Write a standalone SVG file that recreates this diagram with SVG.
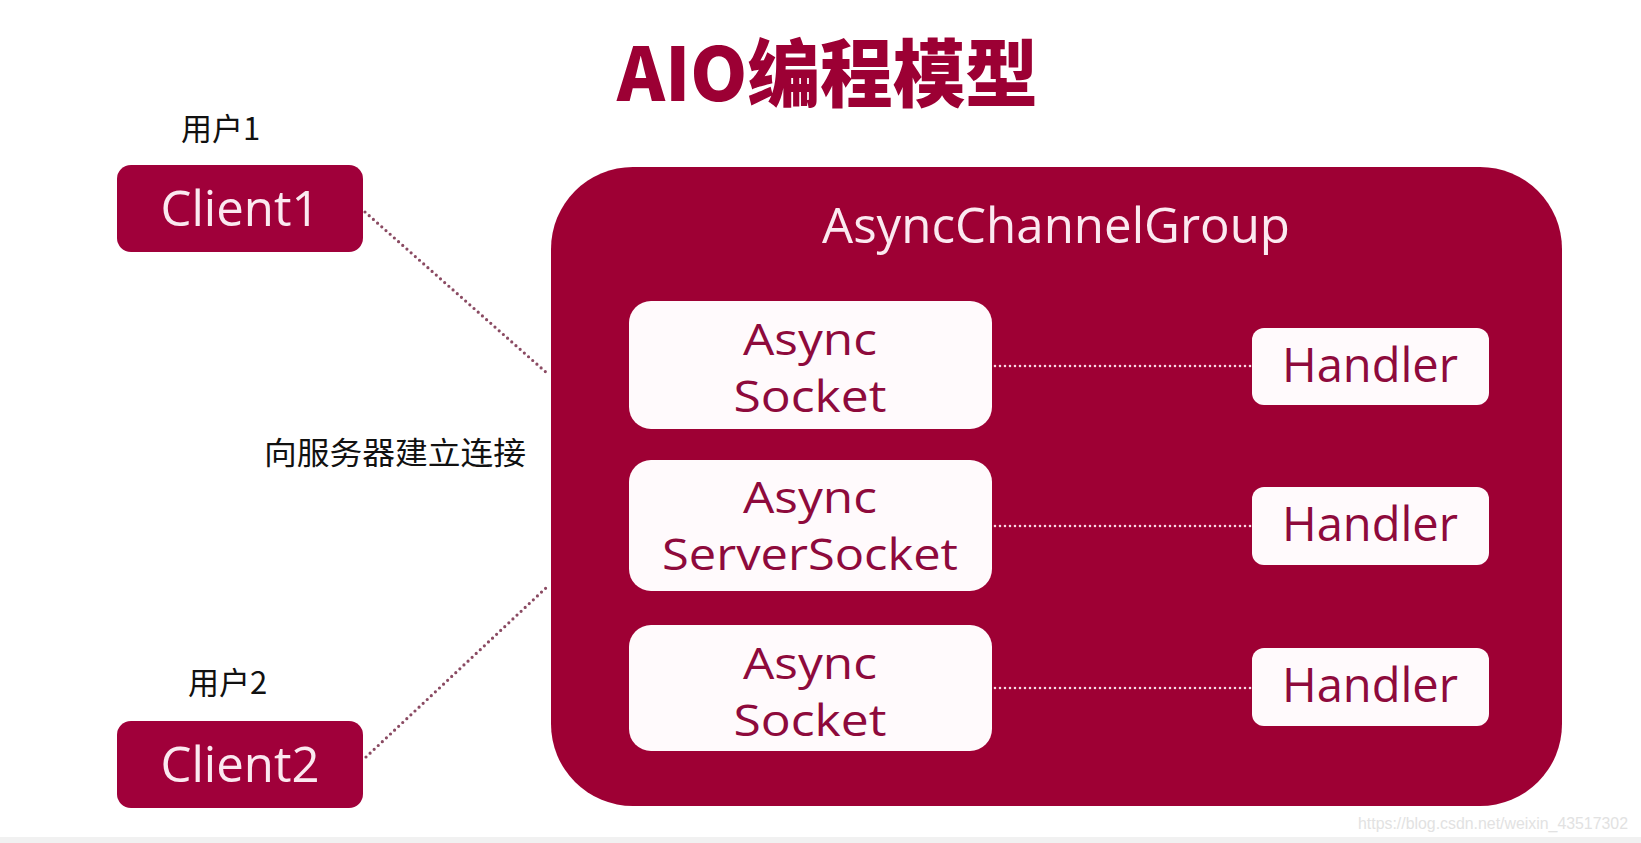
<svg xmlns="http://www.w3.org/2000/svg" width="1641" height="843" viewBox="0 0 1641 843">
<style>
.crim{fill:#9e0034}
.white{fill:#fffafc}
.lat{font-family:"Open Sans","Noto Sans",sans-serif}
.wt{fill:#fbe9f0}
.rt{fill:#8e0a3c}
.cjk{font-family:"Noto Sans CJK SC",sans-serif;fill:#111;font-size:31px}
.diag{stroke:#8a4a62;stroke-width:3.2;stroke-dasharray:0 5.6;stroke-linecap:round;fill:none}
.hdot{stroke:#f7d9e4;stroke-width:2.6;stroke-dasharray:0 5;stroke-linecap:round;fill:none}
</style>
<rect width="1641" height="843" fill="#ffffff"/>
<rect x="0" y="837" width="1641" height="6" fill="#f1f1f1"/>
<text id="title" x="617" y="101" textLength="421" lengthAdjust="spacingAndGlyphs" font-family="'Noto Sans CJK SC',sans-serif" font-weight="900" font-size="74" fill="#9c0034">AIO编程模型</text>
<g id="group">
<rect x="551" y="167" width="1011" height="639" rx="82" class="crim"/>
<text x="1056" y="243" textLength="468" lengthAdjust="spacingAndGlyphs" text-anchor="middle" class="lat wt" font-size="50">AsyncChannelGroup</text>
</g>
<g id="connectors">
<line x1="365" y1="212" x2="548" y2="374" class="diag"/>
<line x1="366" y1="757" x2="548" y2="586" class="diag"/>
<line x1="995" y1="366" x2="1251" y2="366" class="hdot"/>
<line x1="995" y1="526" x2="1251" y2="526" class="hdot"/>
<line x1="995" y1="688" x2="1251" y2="688" class="hdot"/>
</g>
<g id="client1">
<rect x="117" y="165" width="246" height="87" rx="14" fill="#a0003a"/>
<text x="240" y="226" textLength="159" lengthAdjust="spacingAndGlyphs" text-anchor="middle" class="lat wt" font-size="50">Client1</text>
</g>
<g id="client2">
<rect x="117" y="721" width="246" height="87" rx="14" fill="#a0003a"/>
<text x="240" y="782" textLength="159" lengthAdjust="spacingAndGlyphs" text-anchor="middle" class="lat wt" font-size="50">Client2</text>
</g>
<text id="user1" x="181" y="140" class="cjk">用户1</text>
<text id="user2" x="188" y="694" class="cjk">用户2</text>
<text id="conn-label" x="264" y="464" class="cjk" textLength="262" lengthAdjust="spacingAndGlyphs">向服务器建立连接</text>
<g id="socket1">
<rect x="629" y="301" width="363" height="128" rx="22" class="white"/>
<text x="810" y="355" textLength="134" lengthAdjust="spacingAndGlyphs" text-anchor="middle" class="lat rt" font-size="43">Async</text>
<text x="810" y="412" textLength="153" lengthAdjust="spacingAndGlyphs" text-anchor="middle" class="lat rt" font-size="43">Socket</text>
</g>
<g id="serversocket">
<rect x="629" y="460" width="363" height="131" rx="22" class="white"/>
<text x="810" y="513" textLength="134" lengthAdjust="spacingAndGlyphs" text-anchor="middle" class="lat rt" font-size="43">Async</text>
<text x="810" y="570" textLength="296" lengthAdjust="spacingAndGlyphs" text-anchor="middle" class="lat rt" font-size="43">ServerSocket</text>
</g>
<g id="socket2">
<rect x="629" y="625" width="363" height="126" rx="22" class="white"/>
<text x="810" y="679" textLength="134" lengthAdjust="spacingAndGlyphs" text-anchor="middle" class="lat rt" font-size="43">Async</text>
<text x="810" y="736" textLength="153" lengthAdjust="spacingAndGlyphs" text-anchor="middle" class="lat rt" font-size="43">Socket</text>
</g>
<g id="handler1">
<rect x="1252" y="328" width="237" height="77" rx="12" class="white"/>
<text x="1370" y="382" textLength="176" lengthAdjust="spacingAndGlyphs" text-anchor="middle" class="lat rt" font-size="48">Handler</text>
</g>
<g id="handler2">
<rect x="1252" y="487" width="237" height="78" rx="12" class="white"/>
<text x="1370" y="541" textLength="176" lengthAdjust="spacingAndGlyphs" text-anchor="middle" class="lat rt" font-size="48">Handler</text>
</g>
<g id="handler3">
<rect x="1252" y="648" width="237" height="78" rx="12" class="white"/>
<text x="1370" y="702" textLength="176" lengthAdjust="spacingAndGlyphs" text-anchor="middle" class="lat rt" font-size="48">Handler</text>
</g>
<text id="watermark" x="1358" y="829" textLength="270" lengthAdjust="spacingAndGlyphs" font-family="'Liberation Sans',sans-serif" font-size="17" fill="#e2e2e2">https://blog.csdn.net/weixin_43517302</text>
</svg>
